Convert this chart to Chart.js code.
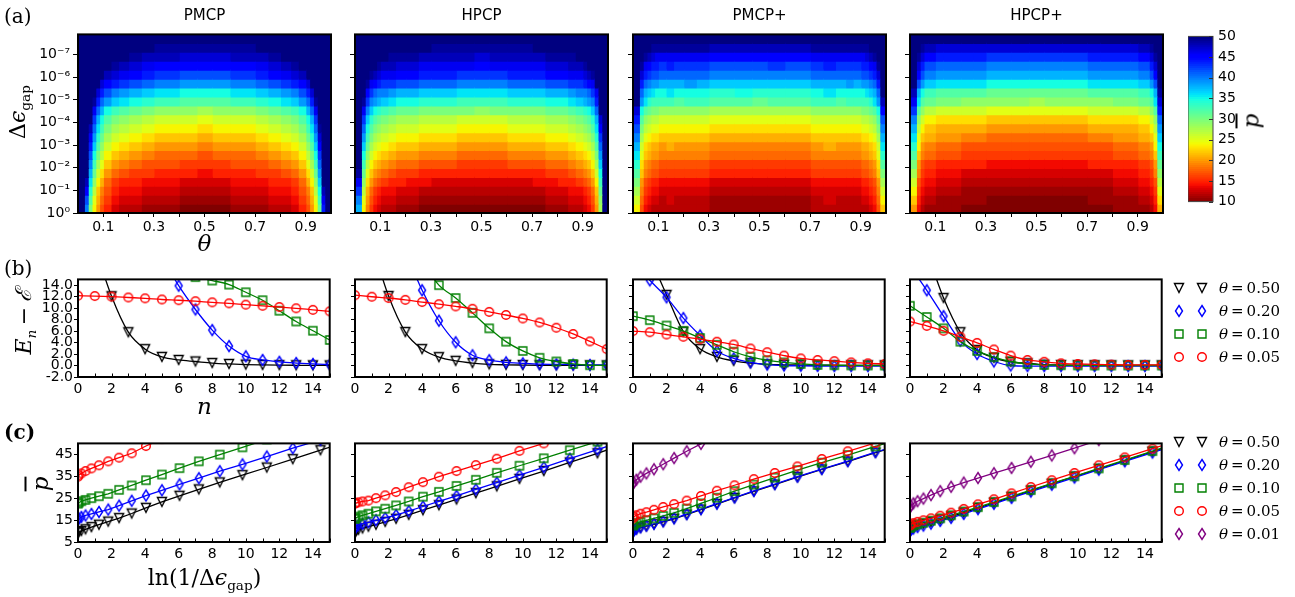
<!DOCTYPE html>
<html>
<head>
<meta charset="utf-8">
<script src="https://cdn.jsdelivr.net/npm/chart.js@4.4.1/dist/chart.umd.min.js"></script>
<style>
  html, body { margin: 0; padding: 0; background: #fff; }
  body { position: relative; width: 1295px; height: 597px; overflow: hidden; }
  canvas { position: absolute; }
  .lbl { position: absolute; white-space: nowrap; color: #000; line-height: 1; transform: translate(-50%, -50%); }
  .left { transform: translate(0, -50%); }
  .rot { transform: translate(-50%, -50%) rotate(-90deg); }
  .serif { font-family: "DejaVu Serif", "Liberation Serif", serif; }
  .sans { font-family: "DejaVu Sans", sans-serif; }
  sub { font-size: 62%; vertical-align: -0.35em; line-height: 0; }
  .bar { text-decoration: overline; }
</style>
</head>
<body>
<script>
// ---------------- data ----------------
const PANELS = ['PMCP', 'HPCP', 'PMCP+', 'HPCP+'];

// (a) heat maps: theta cell edges, gap rows (centres in -log10 Δε)
const THETA_EDGES = [0, 0.025, 0.04, 0.055, 0.07, 0.085, 0.1, 0.13, 0.16, 0.2, 0.25, 0.3, 0.4, 0.47,
    0.53, 0.6, 0.7, 0.75, 0.8, 0.84, 0.87, 0.9, 0.915, 0.93, 0.945, 0.96, 0.975, 1.0];
const GAP_ROWS = [0.1975, 0.5925, 0.9875, 1.3825, 1.7775, 2.1725, 2.5675, 2.9625, 3.3575, 3.7525,
    4.1475, 4.5425, 4.9375, 5.3325, 5.7275, 6.1225, 6.5175, 6.9125, 7.3075, 7.7025];
const GAP_MAX = 7.9;
const GAP_TICKS = [0, 1, 2, 3, 4, 5, 6, 7];
const GAP_TICK_LABELS = ['10⁰', '10⁻¹', '10⁻²', '10⁻³', '10⁻⁴', '10⁻⁵', '10⁻⁶', '10⁻⁷'];
const THETA_TICKS = [0.1, 0.2, 0.3, 0.4, 0.5, 0.6, 0.7, 0.8, 0.9];
const THETA_TICK_LABELS = [0.1, 0.3, 0.5, 0.7, 0.9];
const PBAR_MIN = 10, PBAR_MAX = 50;
const PBAR_TICKS = [10, 15, 20, 25, 30, 35, 40, 45, 50];

// p-bar per theta column (bottom row first)
const PMCP_P = [
    [50,50,50,50,50,50,50,50,50,50,50,50,50,50,50,50,50,50,50,50],
    [40,42,45,48,50,50,50,50,50,50,50,50,50,50,50,50,50,50,50,50],
    [30,32,34,36,38,40,42,44,46,48,50,50,50,50,50,50,50,50,50,50],
    [24,25,27,29,31,33,35,37,39,41,43,46,49,50,50,50,50,50,50,50],
    [20,21,22,24,26,28,30,32,34,36,38,41,44,47,50,50,50,50,50,50],
    [17,18,19,21,23,25,27,29,31,33,35,38,41,44,47,50,50,50,50,50],
    [15,16,17,18,20,22,24,26,28,30,32,35,39,42,45,48,50,50,50,50],
    [13,14,15,16,18,20,22,24,26,28,30,33,37,40,44,47,49,50,50,50],
    [12,13,14,15,17,19,21,23,25,27,29,32,36,39,43,46,48,50,50,50],
    [12,13,14,15,16,18,20,22,24,26,28,31,35,38,42,45,47,49,50,50],
    [11,12,13,14,16,17,19,21,23,25,27,30,34,37,41,44,46,48,50,50],
    [11,12,13,14,15,17,18,20,22,24,26,29,33,36,40,43,45,48,49,50],
    [10,11,12,13,15,16,18,20,22,24,26,29,32,35,39,42,45,47,49,50],
    [10,11,12,13,14,16,17,19,21,23,25,28,32,35,39,42,45,47,49,50],
    [10,11,12,13,15,16,18,20,22,24,26,29,32,35,39,42,45,47,49,50],
    [11,12,13,14,15,17,18,20,22,24,26,29,33,36,40,43,45,48,49,50],
    [11,12,13,14,16,17,19,21,23,25,27,30,34,37,41,44,46,48,50,50],
    [12,13,14,15,16,18,20,22,24,26,28,31,35,38,42,45,47,49,50,50],
    [12,13,14,15,17,19,21,23,25,27,29,32,36,39,43,46,48,50,50,50],
    [13,14,15,16,18,20,22,24,26,28,30,33,37,40,44,47,49,50,50,50],
    [15,16,17,18,20,22,24,26,28,30,32,35,39,42,45,48,50,50,50,50],
    [17,18,19,21,23,25,27,29,31,33,35,38,41,44,47,50,50,50,50,50],
    [20,21,22,24,26,28,30,32,34,36,38,41,44,47,50,50,50,50,50,50],
    [24,25,27,29,31,33,35,37,39,41,43,46,49,50,50,50,50,50,50,50],
    [31,33,35,37,39,41,43,45,47,49,50,50,50,50,50,50,50,50,50,50],
    [44,46,48,50,50,50,50,50,50,50,50,50,50,50,50,50,50,50,50,50],
    [50,50,50,50,50,50,50,50,50,50,50,50,50,50,50,50,50,50,50,50]
];
const HPCP_P = [
    [38,40,43,46,49,50,50,50,50,50,50,50,50,50,50,50,50,50,50,50],
    [24,25,27,29,31,33,35,37,39,41,43,46,49,50,50,50,50,50,50,50],
    [19,20,21,23,25,27,29,31,33,35,37,40,43,45,49,50,50,50,50,50],
    [16,17,18,20,22,24,26,28,30,32,34,37,40,43,46,49,50,50,50,50],
    [14,15,16,18,20,22,24,26,28,30,32,35,39,41,45,48,50,50,50,50],
    [13,14,15,17,19,21,23,25,27,29,31,34,38,40,44,47,49,50,50,50],
    [12,13,14,16,18,20,22,24,26,28,30,33,37,40,43,46,48,50,50,50],
    [12,13,14,15,17,19,21,23,25,27,29,32,36,39,43,46,48,49,50,50],
    [11,12,13,15,16,18,20,22,24,26,28,31,35,38,42,45,47,49,50,50],
    [11,12,13,14,16,18,20,22,24,26,28,31,35,38,42,45,47,49,50,50],
    [10,11,12,14,15,17,19,21,23,25,27,30,34,37,41,44,46,48,50,50],
    [10,11,12,13,15,17,19,21,23,25,27,30,34,37,41,44,46,48,49,50],
    [10,11,12,13,15,16,18,20,22,24,26,30,33,36,40,43,46,48,49,50],
    [10,11,12,13,15,16,18,20,22,24,26,29,33,36,40,43,45,47,49,50],
    [10,11,12,13,15,16,18,20,22,24,26,30,33,36,40,43,46,48,49,50],
    [10,11,12,13,15,17,19,21,23,25,27,30,34,37,41,44,46,48,49,50],
    [10,11,12,14,15,17,19,21,23,25,27,30,34,37,41,44,46,48,50,50],
    [11,12,13,14,16,18,20,22,24,26,28,31,35,38,42,45,47,49,50,50],
    [11,12,13,15,16,18,20,22,24,26,28,31,35,38,42,45,47,49,50,50],
    [12,13,14,15,17,19,21,23,25,27,29,32,36,39,43,46,48,49,50,50],
    [12,13,14,16,18,20,22,24,26,28,30,33,37,40,43,46,48,50,50,50],
    [13,14,15,17,19,21,23,25,27,29,31,34,38,40,44,47,49,50,50,50],
    [14,15,16,18,20,22,24,26,28,30,32,35,39,41,45,48,50,50,50,50],
    [16,17,18,20,22,24,26,28,30,32,34,37,40,43,46,49,50,50,50,50],
    [20,21,22,24,26,28,30,32,34,36,38,41,44,46,50,50,50,50,50,50],
    [28,29,31,33,35,37,39,41,43,45,47,50,50,50,50,50,50,50,50,50],
    [50,50,50,50,50,50,50,50,50,50,50,50,50,50,50,50,50,50,50,50]
];
const PMCPP_P = [
    [24,26,28,30,32,34,36,38,40,42,44,47,50,50,50,50,50,50,50,50],
    [17,18,19,20,22,23,25,26,28,30,32,35,39,41,44,47,49,50,50,50],
    [14,15,16,17,19,20,22,23,25,27,29,32,36,38,41,44,46,49,50,50],
    [13,14,15,16,18,19,21,22,24,26,28,31,34,37,40,43,45,48,50,50],
    [12,13,14,15,17,18,20,21,23,25,27,30,33,36,39,42,44,47,49,50],
    [12,13,14,15,17,18,20,21,23,25,27,30,33,35,39,42,44,46,49,50],
    [12,12,13,14,16,17,19,20,22,24,26,29,33,35,38,41,43,46,49,50],
    [12,13,13,14,16,17,19,21,22,24,26,29,33,36,38,41,44,46,49,50],
    [12,12,13,14,16,17,19,20,22,24,26,29,32,35,38,41,43,46,49,50],
    [12,12,13,14,16,17,19,20,22,24,26,29,33,35,39,41,43,46,49,50],
    [12,12,13,14,16,17,19,20,22,24,26,29,33,35,38,41,43,46,49,50],
    [11,11,12,13,15,16,18,19,21,23,25,28,32,34,37,40,42,45,48,50],
    [11,11,12,13,15,16,18,19,21,23,25,28,32,35,37,40,42,45,48,50],
    [11,11,12,13,15,16,18,19,21,23,25,28,31,34,37,40,42,45,48,50],
    [11,11,12,13,15,16,18,19,21,23,25,28,32,34,37,40,43,45,48,50],
    [11,11,12,13,15,16,18,19,21,23,25,28,32,34,37,40,42,45,48,50],
    [12,12,13,14,16,17,19,20,22,24,26,29,33,35,38,41,43,46,49,50],
    [12,13,13,14,16,17,19,21,22,24,26,29,33,36,38,41,44,46,49,50],
    [12,12,13,14,16,17,19,20,22,24,26,29,32,35,38,41,43,46,49,50],
    [12,12,13,14,16,17,19,20,22,24,26,29,33,35,39,41,43,46,49,50],
    [12,12,13,14,16,17,19,20,22,24,26,29,33,35,38,41,43,46,49,50],
    [12,13,14,15,17,18,20,21,23,25,27,30,33,35,39,42,44,46,49,50],
    [12,13,14,15,17,18,20,21,23,25,27,30,33,36,39,42,44,47,49,50],
    [13,14,15,16,18,19,21,22,24,26,28,31,34,37,40,43,45,48,50,50],
    [14,15,16,17,19,20,22,23,25,27,29,32,36,38,41,44,46,49,50,50],
    [17,18,19,20,22,23,25,26,28,30,32,35,39,41,44,47,49,50,50,50],
    [22,24,26,28,30,32,34,36,38,40,42,45,48,50,50,50,50,50,50,50]
];
const HPCPP_P = [
    [20,22,24,26,28,30,32,34,36,38,40,43,46,48,50,50,50,50,50,50],
    [14,15,16,17,19,20,22,24,25,27,29,32,36,38,42,45,47,49,50,50],
    [12,13,14,15,16,17,19,20,22,24,26,29,32,35,39,42,44,47,49,50],
    [11,12,13,14,15,16,18,19,21,22,24,27,31,33,37,40,42,45,48,50],
    [11,12,13,14,15,16,18,19,21,22,24,27,31,33,37,40,42,45,48,50],
    [11,12,13,14,15,16,18,19,21,22,24,27,31,33,37,40,42,45,48,50],
    [11,11,12,13,14,15,17,18,20,21,23,26,30,32,36,39,41,44,47,50],
    [11,11,12,13,14,15,17,18,20,21,23,26,30,32,36,39,41,44,47,50],
    [11,11,12,13,14,15,17,18,20,21,23,26,30,32,36,39,41,44,47,50],
    [10,11,11,12,13,15,16,17,19,21,23,26,29,32,36,39,41,44,47,50],
    [10,11,11,12,13,15,16,17,19,21,23,26,29,32,36,39,41,44,47,50],
    [10,10,11,12,13,14,16,17,18,20,22,25,29,31,35,38,40,43,47,50],
    [10,10,11,12,13,14,16,17,18,20,22,25,29,31,35,38,40,43,47,50],
    [10,10,11,12,13,14,16,17,18,20,22,25,28,31,35,38,40,43,47,50],
    [10,10,11,12,13,14,16,17,18,20,22,25,29,31,35,38,40,43,47,50],
    [10,10,11,12,13,14,16,17,18,20,22,25,29,31,35,38,40,43,47,50],
    [10,11,11,12,13,15,16,17,19,21,23,26,29,32,36,39,41,44,47,50],
    [10,11,11,12,13,15,16,17,19,21,23,26,29,32,36,39,41,44,47,50],
    [11,11,12,13,14,15,17,18,20,21,23,26,30,32,36,39,41,44,47,50],
    [11,11,12,13,14,15,17,18,20,21,23,26,30,32,36,39,41,44,47,50],
    [11,11,12,13,14,15,17,18,20,21,23,26,30,32,36,39,41,44,47,50],
    [11,12,13,14,15,16,18,19,21,22,24,27,31,33,37,40,42,45,48,50],
    [11,12,13,14,15,16,18,19,21,22,24,27,31,33,37,40,42,45,48,50],
    [11,12,13,14,15,16,18,19,21,22,24,27,31,33,37,40,42,45,48,50],
    [12,13,14,15,16,17,19,20,22,24,26,29,32,35,39,42,44,47,49,50],
    [14,15,16,17,19,20,22,24,25,27,29,32,36,38,42,45,47,49,50,50],
    [21,23,25,27,29,31,33,35,37,39,41,44,47,49,50,50,50,50,50,50]
];

// (b) E_n - E vs n
const N_VALUES = [0, 1, 2, 3, 4, 5, 6, 7, 8, 9, 10, 11, 12, 13, 14, 15];
const N_TICKS = [0, 1, 2, 3, 4, 5, 6, 7, 8, 9, 10, 11, 12, 13, 14, 15];
const N_TICK_LABELS = [0, 2, 4, 6, 8, 10, 12, 14];
const EN_TICKS = [-2, 0, 2, 4, 6, 8, 10, 12, 14];
const B_PMCP_050 = [null, 20.7, 12.06, 5.8, 2.85, 1.5, 0.97, 0.7, 0.43, 0.27, 0.16, 0.1, 0.06, 0.04, 0.03, 0.02];
const B_PMCP_020 = [null, null, null, null, null, 19, 13.9, 9.76, 6.17, 3.38, 1.6, 0.97, 0.64, 0.43, 0.27, 0.16];
const B_PMCP_010 = [null, null, null, null, null, null, null, 15.4, 14.8, 14.1, 12.76, 11.37, 9.54, 7.67, 6.06, 4.45];
const B_PMCP_005 = [12.17, 12.1, 12.0, 11.85, 11.7, 11.5, 11.37, 11.2, 11.0, 10.83, 10.6, 10.4, 10.19, 9.97, 9.7, 9.44];
const B_HPCP_050 = [null, 21.2, 12.1, 5.83, 2.86, 1.46, 0.81, 0.43, 0.2, 0.12, 0.08, 0.05, 0.04, 0.03, 0.02, 0.02];
const B_HPCP_020 = [null, null, null, 19.9, 13.1, 7.8, 4.05, 1.78, 0.92, 0.54, 0.38, 0.25, 0.2, 0.15, 0.1, 0.1];
const B_HPCP_010 = [null, null, null, null, 18, 14.0, 11.76, 9.17, 6.48, 4.16, 2.54, 1.35, 0.7, 0.27, 0.05, 0.0];
const B_HPCP_005 = [12.25, 11.98, 11.76, 11.44, 11.06, 10.68, 10.3, 9.88, 9.34, 8.8, 8.2, 7.5, 6.58, 5.5, 4.2, 2.86];
const B_PMCPP_050 = [null, 18.9, 12.3, 5.9, 2.86, 1.5, 0.8, 0.4, 0.2, 0.12, 0.08, 0.05, 0.04, 0.03, 0.02, 0.02];
const B_PMCPP_020 = [18, 14.84, 11.87, 8.26, 5.23, 2.54, 1.24, 0.54, 0.16, 0.0, -0.05, -0.08, -0.1, -0.1, -0.1, -0.1];
const B_PMCPP_010 = [8.6, 7.9, 6.97, 6.0, 4.8, 3.6, 2.4, 1.5, 0.9, 0.54, 0.27, 0.1, 0.05, 0.02, 0.01, 0.0];
const B_PMCPP_005 = [6.0, 5.8, 5.4, 5.0, 4.58, 4.15, 3.67, 2.97, 2.32, 1.73, 1.24, 0.97, 0.76, 0.54, 0.38, 0.27];
const B_HPCPP_050 = [null, 19.9, 11.76, 5.8, 2.7, 1.35, 0.65, 0.38, 0.15, 0.08, 0.05, 0.04, 0.03, 0.02, 0.02, 0.02];
const B_HPCPP_020 = [17.3, 13.1, 8.6, 4.3, 2.0, 0.7, 0.0, -0.1, -0.1, -0.1, -0.1, -0.1, -0.1, -0.1, -0.1, -0.1];
const B_HPCPP_010 = [10.4, 8.46, 6.48, 4.16, 2.54, 1.46, 0.7, 0.27, 0.1, 0.05, 0.02, 0.01, 0.0, 0.0, 0.0, 0.0];
const B_HPCPP_005 = [7.66, 6.9, 6.04, 5.0, 3.94, 2.8, 1.73, 0.97, 0.65, 0.38, 0.27, 0.2, 0.15, 0.1, 0.1, 0.1];

// (c) p-bar vs ln(1/Δε_gap)
const LN_GAP = [0, 0.05, 0.2, 0.45, 0.8, 1.25, 1.8, 2.45, 3.2, 4.05, 5.0, 6.05, 7.2, 8.45, 9.8, 11.25, 12.8, 14.45, 16.2];
const LN_TICKS = [0, 1, 2, 3, 4, 5, 6, 7, 8, 9, 10, 11, 12, 13, 14, 15];
const LN_TICK_LABELS = [0, 2, 4, 6, 8, 10, 12, 14];
const PC_TICKS = [5, 15, 25, 35, 45];
const C_PMCP_050 = [9.3, 9.5, 10.0, 10.8, 11.8, 12.9, 14.3, 15.9, 18.0, 20.6, 23.3, 26.1, 29.0, 32.2, 35.5, 39.0, 42.8, 46.9, 51.2];
const C_PMCP_020 = [15.3, 15.7, 16.4, 17.1, 17.8, 18.7, 19.8, 21.6, 23.8, 26.2, 28.6, 31.3, 34.1, 37.3, 40.4, 44.0, 47.8, 51.6, null];
const C_PMCP_010 = [22.5, 23.0, 23.6, 24.2, 25.0, 25.9, 27.0, 28.8, 30.8, 33.2, 35.8, 38.7, 41.8, 44.9, 48.2, 51.8, null, null, null];
const C_PMCP_005 = [34.8, 35.5, 36.3, 37.4, 38.6, 40.0, 41.8, 43.5, 45.5, 48.8, 52.0, null, null, null, null, null, null, null, null];
const C_HPCP_050 = [9.2, 9.8, 10.5, 11.2, 12.0, 12.9, 14.2, 15.6, 17.4, 19.5, 21.8, 24.4, 27.3, 30.4, 33.8, 37.4, 41.3, 45.5, 50.0];
const C_HPCP_020 = [11.2, 11.8, 12.6, 13.3, 14.0, 14.9, 16.0, 17.3, 19.1, 21.2, 23.5, 26.1, 29.0, 32.1, 35.5, 39.1, 43.0, 47.2, 51.5];
const C_HPCP_010 = [15.5, 16.0, 16.6, 17.2, 17.9, 19.0, 20.2, 21.7, 23.5, 25.7, 27.9, 30.6, 33.4, 36.6, 39.8, 43.2, 46.9, 50.8, null];
const C_HPCP_005 = [22.5, 22.8, 23.1, 23.5, 23.9, 25.0, 26.3, 27.8, 30.0, 32.3, 34.8, 37.4, 40.1, 43.0, 46.6, 50.0, 54.0, null, null];
const C_PMCPP_050 = [9.7, 10.1, 10.8, 11.5, 12.2, 13.1, 14.2, 15.6, 17.5, 19.8, 22.3, 25.1, 28.1, 31.2, 34.6, 38.1, 41.7, 45.8, 49.8];
const C_PMCPP_020 = [9.8, 10.3, 11.0, 11.7, 12.4, 13.3, 14.4, 15.8, 17.7, 20.0, 22.5, 25.3, 28.3, 31.4, 34.8, 38.3, 41.9, 46.0, 50.0];
const C_PMCPP_010 = [12.5, 13.0, 13.6, 14.2, 14.9, 15.8, 16.9, 18.3, 20.2, 22.6, 25.2, 28.2, 31.2, 34.4, 37.8, 41.2, 44.7, 48.6, 52.5];
const C_PMCPP_005 = [15.8, 16.5, 17.2, 17.9, 18.6, 19.7, 21.0, 22.3, 23.9, 26.0, 28.4, 30.9, 33.7, 36.5, 39.5, 42.9, 46.4, 50.2, null];
const C_PMCPP_001 = [31.5, 32.2, 33.4, 34.8, 36.3, 38.2, 40.5, 43.3, 46.4, 49.8, 53.5, null, null, null, null, null, null, null, null];
const C_HPCPP_050 = [10.8, 11.3, 11.9, 12.5, 13.2, 14.1, 15.2, 16.6, 18.4, 20.5, 22.9, 25.5, 28.4, 31.5, 34.8, 38.3, 42.1, 46.2, 50.5];
const C_HPCPP_020 = [10.0, 10.5, 11.1, 11.8, 12.5, 13.4, 14.6, 16.0, 17.8, 20.0, 22.4, 25.1, 28.0, 31.1, 34.4, 38.0, 41.8, 45.8, 50.0];
const C_HPCPP_010 = [11.4, 11.9, 12.5, 13.1, 13.8, 14.7, 15.8, 17.2, 18.9, 20.9, 23.2, 25.8, 28.7, 31.8, 35.0, 38.6, 42.4, 46.5, 50.8];
const C_HPCPP_005 = [12.5, 13.0, 13.6, 14.2, 14.9, 15.8, 17.0, 18.4, 20.1, 22.2, 24.5, 27.2, 30.1, 33.2, 36.5, 40.0, 43.6, 47.6, 51.8];
const C_HPCPP_001 = [20.8, 21.6, 22.6, 23.6, 24.8, 26.4, 28.2, 30.2, 32.1, 34.2, 36.4, 38.8, 41.6, 44.5, 47.8, 51.5, null, null, null];

// ---------------- layout / style ----------------
const PANEL_X = [78, 355, 633, 910];
const PANEL_W = 253;
const ROW_A = { top: 25, h: 188 };
const ROW_B = { top: 272, h: 105 };
const ROW_C = { top: 436, h: 106 };
const TICK_FONT = { family: 'DejaVu Sans', size: 14 };

const THETA_STYLE = {
    '0.50': { color: '#000000', shape: 'v', order: 5 },
    '0.20': { color: '#0000ff', shape: 'd', order: 4 },
    '0.10': { color: '#008000', shape: 's', order: 3 },
    '0.05': { color: '#ff0000', shape: 'o', order: 2 },
    '0.01': { color: '#800080', shape: 'd', order: 1 }
};

const B_SERIES = [
    { '0.50': B_PMCP_050, '0.20': B_PMCP_020, '0.10': B_PMCP_010, '0.05': B_PMCP_005 },
    { '0.50': B_HPCP_050, '0.20': B_HPCP_020, '0.10': B_HPCP_010, '0.05': B_HPCP_005 },
    { '0.50': B_PMCPP_050, '0.20': B_PMCPP_020, '0.10': B_PMCPP_010, '0.05': B_PMCPP_005 },
    { '0.50': B_HPCPP_050, '0.20': B_HPCPP_020, '0.10': B_HPCPP_010, '0.05': B_HPCPP_005 }
];
const C_SERIES = [
    { '0.50': C_PMCP_050, '0.20': C_PMCP_020, '0.10': C_PMCP_010, '0.05': C_PMCP_005 },
    { '0.50': C_HPCP_050, '0.20': C_HPCP_020, '0.10': C_HPCP_010, '0.05': C_HPCP_005 },
    { '0.50': C_PMCPP_050, '0.20': C_PMCPP_020, '0.10': C_PMCPP_010, '0.05': C_PMCPP_005, '0.01': C_PMCPP_001 },
    { '0.50': C_HPCPP_050, '0.20': C_HPCPP_020, '0.10': C_HPCPP_010, '0.05': C_HPCPP_005, '0.01': C_HPCPP_001 }
];

Chart.defaults.font.family = 'DejaVu Sans';
Chart.defaults.font.size = 14;
Chart.defaults.color = '#000';

// jet colormap, reversed so that low p-bar is dark red
const JET = {
    r: [[0, 0], [0.35, 0], [0.66, 1], [0.89, 1], [1, 0.5]],
    g: [[0, 0], [0.125, 0], [0.375, 1], [0.64, 1], [0.91, 0], [1, 0]],
    b: [[0, 0.5], [0.11, 1], [0.34, 1], [0.65, 0], [1, 0]]
};
function interp(pts, t) {
    for (let k = 1; k < pts.length; k++) {
        if (t <= pts[k][0]) {
            const [x0, y0] = pts[k - 1], [x1, y1] = pts[k];
            return y0 + (y1 - y0) * (t - x0) / (x1 - x0);
        }
    }
    return pts[pts.length - 1][1];
}
function pColor(p) {
    const t = Math.min(1, Math.max(0, (PBAR_MAX - p) / (PBAR_MAX - PBAR_MIN)));
    const c = ['r', 'g', 'b'].map(k => Math.round(255 * interp(JET[k], t)));
    return `rgb(${c[0]},${c[1]},${c[2]})`;
}

function makeMarker(shape, color) {
    const c = document.createElement('canvas');
    c.width = 16; c.height = 16;
    const g = c.getContext('2d');
    g.strokeStyle = color;
    g.lineWidth = 1.4;
    g.beginPath();
    if (shape === 'v') { g.moveTo(3.5, 3.5); g.lineTo(12.5, 3.5); g.lineTo(8, 12.5); g.closePath(); }
    else if (shape === 'd') { g.moveTo(8, 2.5); g.lineTo(11.5, 8); g.lineTo(8, 13.5); g.lineTo(4.5, 8); g.closePath(); }
    else if (shape === 's') { g.rect(4, 4, 8, 8); }
    else { g.arc(8, 8, 4.3, 0, Math.PI * 2); }
    g.stroke();
    return c;
}
const MARKERS = {};
for (const t in THETA_STYLE) MARKERS[t] = makeMarker(THETA_STYLE[t].shape, THETA_STYLE[t].color);

function addCanvas(x, y, w, h) {
    const c = document.createElement('canvas');
    c.width = w; c.height = h;
    c.style.left = x + 'px'; c.style.top = y + 'px';
    c.style.width = w + 'px'; c.style.height = h + 'px';
    document.body.appendChild(c);
    return c;
}

function label(html, x, y, cls, css) {
    const d = document.createElement('div');
    d.className = 'lbl ' + (cls || '');
    d.innerHTML = html;
    d.style.left = x + 'px';
    d.style.top = y + 'px';
    if (css) d.style.cssText += css;
    document.body.appendChild(d);
}

// plot frame drawn over the data
const framePlugin = {
    id: 'frame',
    afterDatasetsDraw(chart, args, opts) {
        const { ctx, chartArea: a } = chart;
        ctx.save();
        ctx.strokeStyle = opts.color || '#000';
        ctx.lineWidth = opts.width || 2;
        ctx.strokeRect(a.left, a.top, a.right - a.left, a.bottom - a.top);
        ctx.restore();
    }
};
// ticks pointing into the plot
const innerTicks = {
    id: 'innerTicks',
    afterDatasetsDraw(chart, args, opts) {
        if (!opts.axis) return;
        const { ctx, chartArea: a } = chart;
        const s = chart.scales[opts.axis];
        ctx.save();
        ctx.strokeStyle = opts.color || '#000';
        ctx.lineWidth = 1;
        ctx.beginPath();
        for (const t of s.ticks) {
            const p = Math.round(s.getPixelForValue(t.value)) + 0.5;
            if (opts.axis === 'x') { ctx.moveTo(p, a.bottom); ctx.lineTo(p, a.bottom - opts.len); }
            else { ctx.moveTo(a.right, p); ctx.lineTo(a.right - opts.len, p); }
        }
        ctx.stroke();
        ctx.restore();
    }
};

function axis(min, max, ticks, cb, size, isX, o) {
    return {
        type: 'linear', min: min, max: max, offset: false,
        border: { display: false },
        grid: { drawOnChartArea: false, offset: false, color: '#000', tickColor: '#000',
                drawTicks: o.drawTicks !== false, tickLength: o.tickLength || 4 },
        ticks: { padding: o.padding, autoSkip: false, maxRotation: 0, callback: cb, font: TICK_FONT },
        afterBuildTicks: s => { s.ticks = ticks.map(v => ({ value: v })); },
        afterFit: s => { if (isX) s.height = size; else s.width = size; }
    };
}

const BASE = { responsive: false, animation: false, events: [] };

// ---------------- (a) heat maps ----------------
function heatmap(i, P) {
    const pad = { l: 52, t: 2, r: 4, b: 26 };
    const cv = addCanvas(PANEL_X[i] - pad.l, ROW_A.top - pad.t, PANEL_W + pad.l + pad.r, ROW_A.h + pad.t + pad.b);
    const datasets = P.map((col, j) => ({
        data: GAP_ROWS.map(y => ({ y: y, x: [THETA_EDGES[j], THETA_EDGES[j + 1]] })),
        backgroundColor: col.map(pColor),
        borderWidth: 0,
        grouped: false,
        barPercentage: 1,
        categoryPercentage: 1,
        inflateAmount: 0.6
    }));
    new Chart(cv, {
        type: 'bar',
        data: { datasets },
        options: {
            ...BASE,
            indexAxis: 'y',
            layout: { padding: { top: pad.t, right: pad.r, left: 0, bottom: 0 } },
            plugins: { legend: { display: false }, tooltip: { enabled: false }, frame: { width: 2 } },
            scales: {
                x: axis(0, 1, THETA_TICKS, v => THETA_TICK_LABELS.includes(v) ? String(v) : '', pad.b, true,
                        { tickLength: 4, padding: 2 }),
                y: axis(0, GAP_MAX, GAP_TICKS, (v, k) => i === 0 ? GAP_TICK_LABELS[k] : '', pad.l, false,
                        { tickLength: 5, padding: 3 })
            }
        },
        plugins: [framePlugin]
    });
}
heatmap(0, PMCP_P);
heatmap(1, HPCP_P);
heatmap(2, PMCPP_P);
heatmap(3, HPCPP_P);

// colour bar
(function colorbar() {
    const cv = addCanvas(1188, ROW_A.top - 2, 25 + 40, ROW_A.h + 4);
    const levels = [];
    for (let p = PBAR_MIN + 0.25; p < PBAR_MAX; p += 0.5) levels.push(p);
    new Chart(cv, {
        type: 'bar',
        data: { datasets: [{
            data: levels.map(p => ({ y: p, x: [0, 1] })),
            backgroundColor: levels.map(pColor),
            borderWidth: 0, barPercentage: 1, categoryPercentage: 1, inflateAmount: 0.6
        }] },
        options: {
            ...BASE,
            indexAxis: 'y',
            layout: { padding: { top: 2, bottom: 2, left: 0, right: 0 } },
            plugins: { legend: { display: false }, tooltip: { enabled: false },
                       frame: { width: 1, color: '#444' }, innerTicks: { axis: 'y', len: 4, color: '#333' } },
            scales: {
                x: { type: 'linear', min: 0, max: 1, display: false },
                y: Object.assign(axis(PBAR_MIN, PBAR_MAX, PBAR_TICKS, v => String(v), 40, false,
                        { drawTicks: false, padding: 5 }), { position: 'right' })
            }
        },
        plugins: [framePlugin, innerTicks]
    });
})();

// ---------------- (b), (c) line panels ----------------
function linePanel(i, row, xs, series, yMin, yMax, yTicks, yFmt, xTicks, xLabels, smooth) {
    const pad = { l: 50, t: 2, r: 4, b: 24 };
    const cv = addCanvas(PANEL_X[i] - pad.l, row.top - pad.t, PANEL_W + pad.l + pad.r, row.h + pad.t + pad.b);
    const datasets = Object.keys(series).map(t => ({
        data: xs.map((x, k) => ({ x: x, y: series[t][k] })),
        borderColor: THETA_STYLE[t].color,
        borderWidth: 1.3,
        pointStyle: MARKERS[t],
        pointRadius: 4,
        fill: false,
        order: THETA_STYLE[t].order,
        cubicInterpolationMode: smooth ? 'monotone' : 'default',
        tension: 0
    }));
    new Chart(cv, {
        type: 'line',
        data: { datasets },
        options: {
            ...BASE,
            layout: { padding: { top: pad.t, right: pad.r, left: 0, bottom: 0 } },
            plugins: { legend: { display: false }, tooltip: { enabled: false },
                       frame: { width: 2 }, innerTicks: { axis: 'x', len: 3.5 } },
            scales: {
                x: axis(0, 15, xTicks, v => xLabels.includes(v) ? String(v) : '', pad.b, true,
                        { drawTicks: false, padding: 4 }),
                y: axis(yMin, yMax, yTicks, v => i === 0 ? yFmt(v) : '', pad.l, false,
                        { tickLength: 4, padding: 1 })
            }
        },
        plugins: [framePlugin, innerTicks]
    });
}
for (let i = 0; i < 4; i++) {
    linePanel(i, ROW_B, N_VALUES, B_SERIES[i], -2, 15, EN_TICKS, v => v.toFixed(1), N_TICKS, N_TICK_LABELS, true);
    linePanel(i, ROW_C, LN_GAP, C_SERIES[i], 5, 50, PC_TICKS, v => String(v), LN_TICKS, LN_TICK_LABELS, false);
}

// ---------------- legends ----------------
function legend(thetas, y0) {
    thetas.forEach((t, k) => {
        const y = y0 + k * 23;
        [1179, 1202].forEach(x => {
            const c = addCanvas(x - 8, y - 8, 16, 16);
            c.getContext('2d').drawImage(MARKERS[t], 0, 0);
        });
        label('<i>θ</i>\u2009=\u2009' + t, 1219, y, 'left serif', 'font-size:15px;');
    });
}
legend(['0.50', '0.20', '0.10', '0.05'], 288);
legend(['0.50', '0.20', '0.10', '0.05', '0.01'], 442);

// ---------------- text ----------------
PANELS.forEach((name, i) => label(name, PANEL_X[i] + PANEL_W / 2, 15, 'sans', 'font-size:15px;'));
label('(a)', 4, 16, 'left serif', 'font-size:20px;');
label('(b)', 4, 268, 'left serif', 'font-size:20px;');
label('(c)', 4, 432, 'left serif', 'font-size:20px;font-weight:bold;');
label('<i>θ</i>', 204.5, 243, 'serif', 'font-size:23px;');
label('Δ<i>ϵ</i><sub>gap</sub>', 18, 112, 'rot serif', 'font-size:22px;');
label('<i>E<sub>n</sub></i>\u2009−\u2009<i>ℰ</i>', 24, 322, 'rot serif', 'font-size:22px;');
label('<i>n</i>', 204.5, 406, 'serif', 'font-size:23px;');
label('<i class="bar">p</i>', 40, 484, 'rot serif', 'font-size:23px;');
label('ln(1/Δ<i>ϵ</i><sub>gap</sub>)', 204.5, 578, 'serif', 'font-size:22px;');
label('<i class="bar">p</i>', 1251, 121, 'rot serif', 'font-size:23px;');
</script>
</body>
</html>
